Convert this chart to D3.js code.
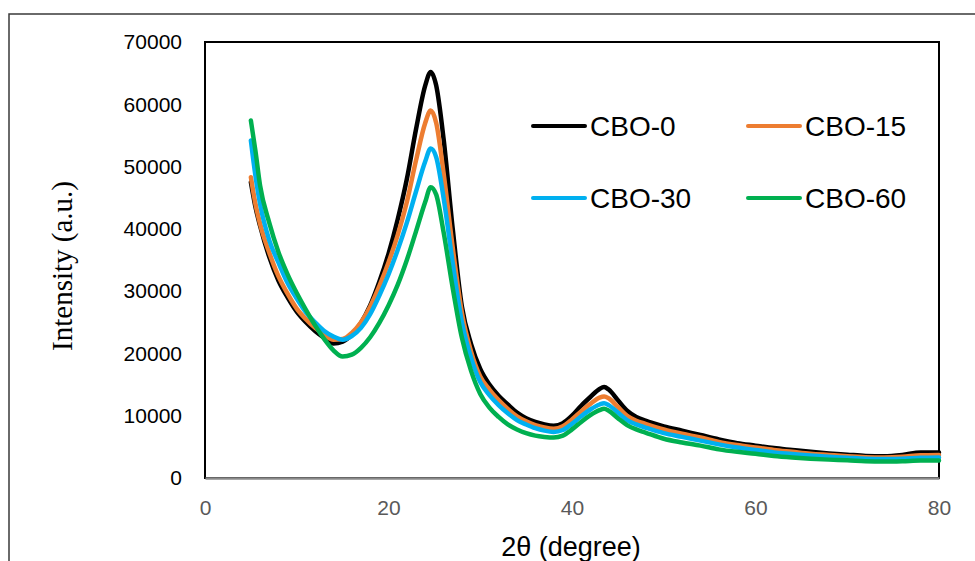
<!DOCTYPE html>
<html><head><meta charset="utf-8">
<script src="https://cdn.jsdelivr.net/npm/d3@7"></script>
<style>html,body{margin:0;padding:0;background:#fff;}svg{display:block;}</style>
</head><body>
<svg id="chart" width="975" height="561"></svg>
<script>
const seriesNames = ["CBO-0", "CBO-15", "CBO-30", "CBO-60"];
const seriesColors = ["#000000", "#ED7D31", "#00B0F0", "#00B050"];
const twoTheta = [5,5.5,6,7,8,9,10,11,12,13,14,15,16,17,18,19,20,21,22,23,24,24.6,25.2,26,27,28,29,30,31,32,33,34,35,36,37,38,39,40,41,42,43,43.5,44,45,46,47,48,50,52,54,56,58,60,62,64,66,68,70,72,74,76,78,80];
const cbo0 = [47500,43500,40500,35500,31700,29000,26700,25000,23600,22500,21600,21900,23000,24900,27700,31500,36000,41500,48000,56000,63000,65200,63000,54500,40000,27500,21500,17500,15000,13200,11800,10500,9600,9000,8600,8400,8800,10000,11600,13000,14300,14600,14200,12500,10800,9800,9200,8300,7600,6900,6200,5600,5200,4800,4500,4200,3950,3750,3550,3500,3700,4100,4100];
const cbo15 = [48300,44000,40800,36200,32400,29600,27200,25500,24100,23000,22200,22300,23300,25000,27500,30800,34600,39000,44300,51000,57000,59000,57000,49000,37000,26500,20300,16300,14200,12500,11100,9900,9100,8500,8100,7900,8300,9400,10700,11900,12900,13100,12800,11400,10000,9200,8700,7800,7100,6500,5800,5300,4900,4500,4200,3900,3700,3500,3350,3300,3400,3650,3700];
const cbo30 = [54200,48500,44000,38200,34600,31300,28800,26600,25000,23600,22700,22200,22800,24100,26300,29300,32700,36600,41000,46000,50800,52900,51500,45000,34500,25000,19300,15400,13300,11700,10400,9300,8600,8000,7600,7400,7700,8700,9900,11000,11800,12000,11700,10500,9300,8600,8100,7200,6600,6000,5400,4900,4500,4100,3850,3600,3400,3250,3100,3050,3100,3250,3300];
const cbo60 = [57400,52500,47000,41000,36300,32700,29700,27000,24500,22300,20500,19500,19800,20900,22600,24900,27700,31000,35000,39600,44300,46700,45500,39500,30500,22500,17200,13500,11300,9800,8600,7800,7200,6800,6600,6500,6800,7800,9000,10100,10900,11100,10800,9600,8500,7800,7300,6300,5700,5200,4600,4200,3900,3550,3300,3100,2950,2850,2700,2650,2700,2800,2800];
const allSeries = [cbo0, cbo15, cbo30, cbo60];
const xTicks = [0,20,40,60,80];
const yTicks = [0,10000,20000,30000,40000,50000,60000,70000];
const xTitle = "2θ (degree)";
const yTitle = "Intensity (a.u.)";

const svg = d3.select("#chart");
const M = {left:205, top:42, right:939, bottom:478};
const x = d3.scaleLinear().domain([0,80]).range([M.left, M.right]);
const y = d3.scaleLinear().domain([0,70000]).range([M.bottom, M.top]);

// outer border
svg.append("path").attr("d", `M9,561 V14 H975`).attr("fill","none").attr("stroke","#3a3a3a").attr("stroke-width",1.5);

// plot frame
svg.append("rect").attr("x",M.left).attr("y",M.top).attr("width",M.right-M.left).attr("height",M.bottom-M.top)
  .attr("fill","none").attr("stroke","#000").attr("stroke-width",2);

// y axis labels
const yAxis = d3.axisLeft(y).tickValues(yTicks).tickSize(0).tickPadding(23).tickFormat(d3.format("d"));
const gy = svg.append("g").attr("transform",`translate(${M.left},0)`).call(yAxis);
gy.select(".domain").remove();
gy.selectAll("text").attr("font-family","Liberation Sans, Arial, sans-serif").attr("font-size",21).attr("fill","#000");

// x axis
const xAxis = d3.axisBottom(x).tickValues(xTicks).tickSize(0).tickPadding(22);
const gx = svg.append("g").attr("transform",`translate(0,${M.bottom})`).call(xAxis);
gx.select(".domain").attr("stroke","#8a8a8a").attr("stroke-width",2.5);
gx.selectAll("text").attr("font-family","Liberation Sans, Arial, sans-serif").attr("font-size",21).attr("fill","#595959");

// lines
const line = d3.line().x(d=>x(d[0])).y(d=>y(d[1])).curve(d3.curveMonotoneX);
allSeries.forEach((s,i)=>{
  svg.append("path").datum(twoTheta.map((t,j)=>[t,s[j]]))
    .attr("d",line).attr("fill","none").attr("stroke",seriesColors[i])
    .attr("stroke-width",4.5).attr("stroke-linejoin","round").attr("stroke-linecap","round");
});

// legend
const legPos = [[533,126],[748,126],[533,198],[748,198]];
seriesNames.forEach((n,i)=>{
  const [lx,ly] = legPos[i];
  svg.append("line").attr("x1",lx).attr("x2",lx+52).attr("y1",ly).attr("y2",ly)
    .attr("stroke",seriesColors[i]).attr("stroke-width",4).attr("stroke-linecap","round");
  svg.append("text").attr("x",lx+57).attr("y",ly).attr("dy","0.35em")
    .attr("font-family","Liberation Sans, Arial, sans-serif").attr("font-size",28).attr("fill","#000").text(n);
});

// titles
svg.append("text").attr("x",571).attr("y",547).attr("dy","0.35em").attr("text-anchor","middle")
  .attr("font-family","Liberation Sans, Arial, sans-serif").attr("font-size",27).attr("fill","#000").text(xTitle);
svg.append("text").attr("transform","translate(62,266) rotate(-90)").attr("dy","0.35em").attr("text-anchor","middle")
  .attr("font-family","Liberation Serif, Times New Roman, serif").attr("font-size",29).attr("fill","#000").text(yTitle);
</script>
</body></html>
